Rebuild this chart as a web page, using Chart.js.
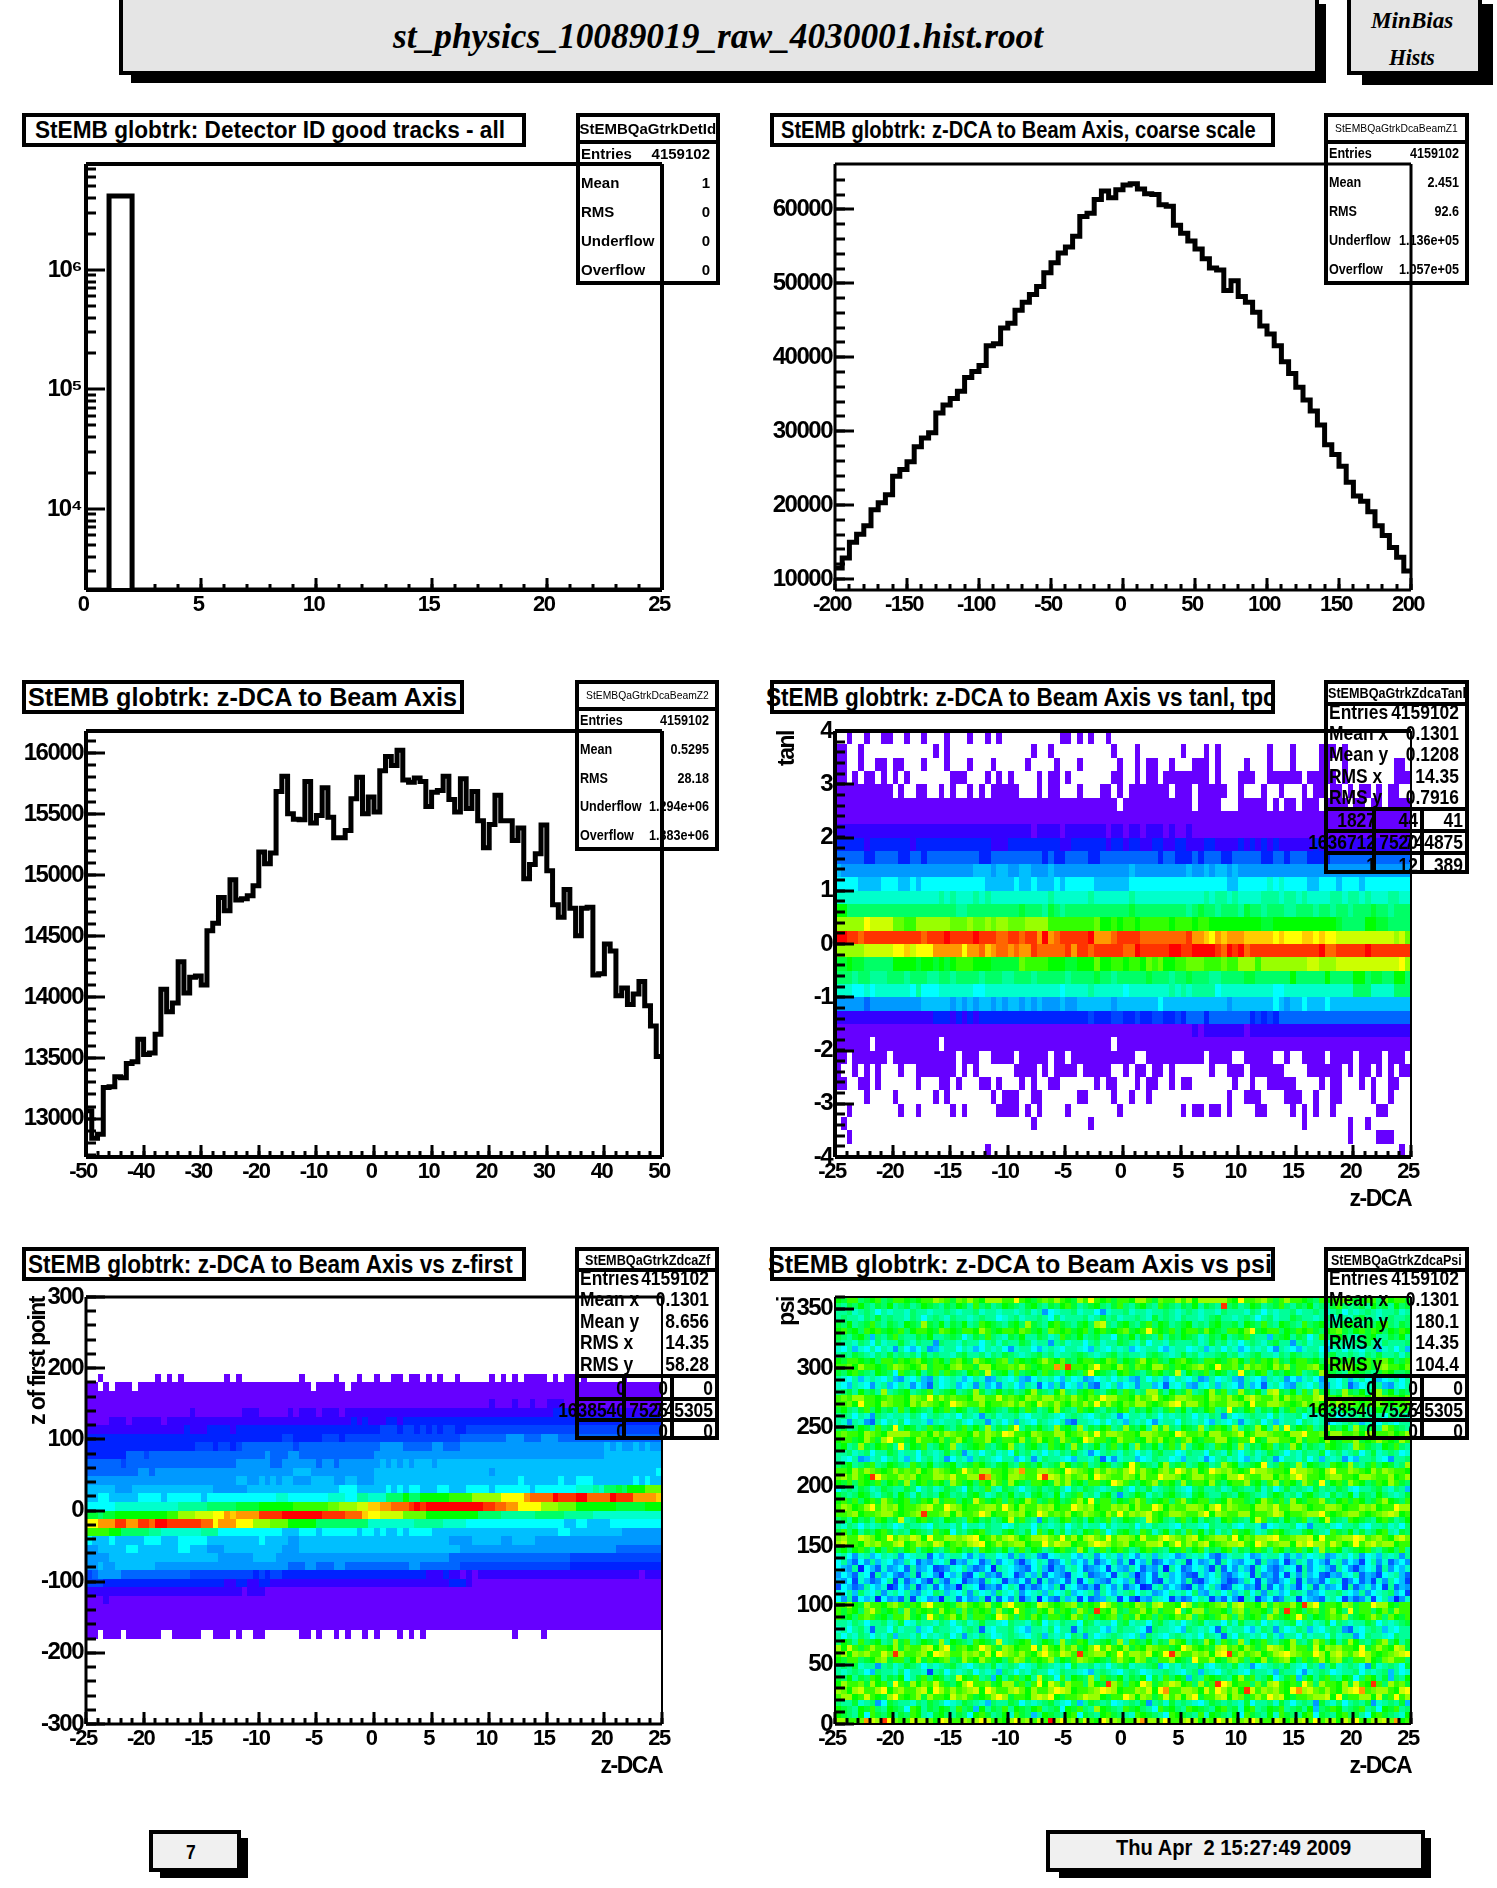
<!DOCTYPE html>
<html>
<head>
<meta charset="utf-8">
<title>st_physics_10089019_raw_4030001.hist.root</title>
<script src="https://cdn.jsdelivr.net/npm/chart.js@4"></script>
<style>
body { margin:0; background:#fff; width:1497px; height:1888px; position:relative; overflow:hidden; color:#000; font-family:"Liberation Sans",Arial,sans-serif; font-weight:bold; }
canvas { position:absolute; }
.box { position:absolute; box-sizing:border-box; border:4px solid #000; }
.shadow { position:absolute; background:#000; }
.txt { position:absolute; white-space:pre; }
.line { position:absolute; background:#000; }
</style>
</head>
<body>
<script>
// values
var detIdCounts = [0,4159102,0,0,0,0,0,0,0,0,0,0,0,0,0,0,0,0,0,0,0,0,0,0,0];
var dcaCoarseCounts = [11490,12830,14970,16040,17220,19360,20320,21390,23900,24810,25880,27910,29090,29780,32460,33530,34440,35400,37270,38070,38880,41550,41820,43960,44600,46360,47430,48500,49570,51440,52780,54120,54920,56360,59040,59470,61340,62510,61600,62670,63300,63480,62780,62140,62030,60640,60430,57860,56790,55720,54650,53320,52090,51820,49040,50370,48230,47430,46090,44220,43150,41550,39410,37810,35930,34220,32730,30850,28180,26850,25240,23100,21230,20530,19090,17220,15890,14280,12940,11070];
var dcaFineCounts = [13067,12840,12874,13257,13263,13345,13337,13453,13468,13652,13527,13541,13693,14062,13878,13951,14288,14033,14162,14171,14097,14542,14604,14815,14706,14961,14794,14806,14829,14911,15189,15093,15180,15684,15810,15502,15458,15453,15766,15426,15488,15716,15473,15306,15306,15365,15625,15801,15502,15640,15517,15854,15971,15898,16023,15780,15760,15795,15766,15561,15678,15693,15810,15619,15517,15789,15546,15684,15444,15224,15415,15655,15444,15444,15283,15385,14970,15087,15175,15409,15034,14756,14654,14882,14727,14501,14727,14736,14179,14191,14434,14376,14010,14074,13937,14024,14127,13928,13761,13512];

// 2D histograms: one string per row, top row first. letter = colour level, '.' = empty, number = run length
var tanlRows = [
".2a.2a.2a2.2a.2a.3a.3a.2a.a.10a2.a.a.2a",
"a2.2a.12a.a.14a.2a.10a.3a.7a.3a.a.8a.3a.4a3.a",
"a2.2a.2a2.a2.3a.3a.3a.3a.5a.4a.3a.6a.2a.a2.2a.3a3.a.4a.3a.3a.4a2.2a.8a2",
"a2.a.a2.a.a.a.7a3.3a.a.a.4a.a2.a.7a2.2a.a2.a8.a.3a3.2a6.a5.a.8a3",
"a10.a.2a2.2a.a.2a.a.a5.3a.a2.3a.3a2.a.a7.a3.a5.2a.3a.2a.3a.a2.a2.a.a2.a.a2.2",
"a49.a12.a4.3a5.a.a2.a3.a4.a2.a2.a4",
"a100",
"b34ab4ab7ab2ab2ab3aba2ba38",
"c5bc7bc13b3c9b2c6bc2bc2b2c2b2c2b3c2b4cbcbcbcb6cb16",
"e5c2e4c2e2ce9c2e9cec2e4c2e10ce2c3ece3c2e5c2e2ce3c4e14",
"gf23g3fg2f2g2f3gf13gf9gf2gfg2fgf30",
"h4g4h3g2hgh11g5hg2hg3hgh5g6h17g2h5ihih4g2h3gh3gh8",
"i18jiji3jiji10ji6ji6ji12jij2iji4j3ij2iji4j2ij2iji3j2i2",
"m2k19j2k9lk3jlkjk6k5lk9jklk2jk3jlk2jk3j2k3jk2jk2jk3lk2jk3",
"p5rq4o2n2p6o3po2pop2o3p4n8om2nmn2mn5mn3mn2m8ml2m11lk4m2l2k4",
"w2v2uv10uv3wv4wv3u2v2uv2twtuv5wt3uv4u8vt2srtst3s5rsr3s2rsr2q10pqo",
"p5q5r2sqr3t5rt2ustu2tut2vu5vtv2uv5u2wv5w2v2w4vuwvwuv12wu2v5wv7",
"l2ml2k5m4lm2lmlmn3m3l5on4m3l2m3om2n2mn2monom2n2o3n3on2p3np8q2p3q8q3rp2",
"k3jk2j3k3jk3j2k2jk4jk3j2k3jk5jk4lk2jk5lk3jk2lk3j2k4l2k6mk5mk4m2kl2k2m2k",
"i3h2ihi6hjh3i6h2i13hi4ji5hi7jijij4hi9h2i12k3i4k3",
"f5ef9g5fgfgfg2fgfg2fgfgf3gf2g6fg7hg11fg7hgfg2hg3hg14",
"b17c3bcbcbc19dc3d2c2dc2d2c2dce3ce7cdcdce23",
"a62bab7ab28",
"a6.a11.a29.a51",
"a2.a6.a11.a3.2a4.a5.a2.a11.2a10.a4.2a5.2a.2a4.a4.a4.a3.",
"a.2a.a.a.3a.2a7.a.a.6a4.a.a4.a5.2a.a2.a2.a.6a.2a3.a6.4a6.a.a2.a.a.a2",
"a2.2a2.a.6a.3a2.a.3a2.a.3a.a.2a2.6a.a2.3a.a2.2a.a2.7a.2a.2a5.4a.a2.3a.a.2a2",
".5a.4a.6a.a.7a.a3.2a2.6a2.4a.2a.2a.13a.2a3.4a3.2a.2a2.5a.2a",
".2a.8a.2a.5a.a.5a4.a.a.4a.8a.10a.a2.a2.a.4a2.4a.a.a.2a.7a2",
".a.32a.9a.36a.7a.2a",
".2a.86a.4a3",
".26a.71a"
];

var zfirstRows = [
".100",".100",".100",".100",".100",".100",".100",".100",".100",
".2a.9a.a.a.7a.a.10a.5a.3a.2a.2a2.a2.a.a.2a.5a.a.a.a4.a.a2.a.6a",
"a2.a.a3.a30.a5.a54",
"a100",
"a70ba3ba2ba2b3a17",
"a18ba8b3a5bab3ab3abb35c3b17",
"a4b3ab5ab32cbcb3c2bc45",
"b17cb3c4bc25d3cd2cdcdcd2c2d34",
"c34d2c5d3cd5d15e8f3e3f3e18",
"c19d3cd2cde9de14f4e5f2e3f25gfgf2gfgf2",
"c7e3de20fe3f2e13f40g10",
"e6de19f6e2f6ef2ef4f3gfgfgfg3fg39",
"e9f2ef6f18g3f6f5g20fg28h",
"f18f8g2f2gfgfg2f3g4f2g2f3g25hg6hg2h3g7hghg2",
"g5f3g14f6g16h3g5hghgh2g3h2g3h4gh6gh7i3jik2lkm3o3",
"g2h2g5h4gh6gh12i2h7i3h2j2i3k3mk2m5n4p5r4tu4wv3w2u4wv3t4s",
"h5i11j5k5l4m6n6o2p3q2s2t2u3vwvw10v2u2t2r4p3o3m4m3l5m3",
"l2kl2m9n2p3q3r2tst4v4w7v4u3sr2q4o4m9k4j6k5j5i12",
"r2t3v2t2v2uw2v6u2rt3r3p3o3m5k9i8j5i4h17g2h2g4h9",
"n4m2k5j2i7j3h11g3h3gh6gh2ghg2hgh4g22h2g9f7",
"hg3hg5h3g3h5g9hg4f2g10g16f4g5f2g4f22",
"f2g5h2g7h2g3f3g10f3g2g26f27e10",
"f4g19f6g4f10f20e21d16",
"f2gf2g7f23e3f2e3f2e11f2e7d19c4c12",
"def4e10e2d2d9cdcd2c2c23b3cb2abab28ab4",
"d3c21b2c2b2c2b31c3ba33",
"b27ab3a69",
"a3ba96",
"a100","a100","a100",
"a2.a3.a6.2a5.2a3.a.2a2.6a2.a.2a.a.2a.a.3a.a.a.15a.4a",
".100",".100",".100",".100",".100",".100",".100",".100",".100",".100"
];

// psi map: colours read row by row, single cells are estimates
var psiRows = [
"mlnoklmnkl onmlmnoqpo lpoqnmrrqo otnmlnpoqn mlrotnmoln nmqrnlpnoq ormrrrrrom tnopqnloqo nmlknmonpo lmnokpmnol",
"kjlkmkjlkm jkljkmlkjl kmljnkljkm lkjlmkjlkm nljklmkjln kjlmkjnlkj lkmjlkjvkl jkmljklnkj lkmjkjlnkj kljmkljmkl",
"jikhjkigjh ijhkjihjik jhijkhijhj ihjkhieghi jkhjigehij khjihijkjh ikjhijhkji jhkigjhijk hijkjhikgj hikjhijkhi",
"jkijhkjlik jihkjgikjh kjihjkijgh jkhijkigkh jijkhiljkh ijkjhlikjh kijhjkljih jkigjkhijl kjihjkgijh kljihjkijk",
"lkmjklnkjl kjmlkqlkmj lkmjknmlkj lmkqlkjmnl kjlmkrskjl mkjlnkmljk lmjkjlmkkl jmlknkjmlk jnklmjkjlm kjlkmnkjlk",
"mnlmknmolm lnkmonmlpn mlnomqnlmn ompnlmkpnm olmnkmolmn plmotnmlnk mnolpmlkon mptlmnokml nmolkmnplk mnlomkmlnm",
"lkjlmkfkjl nkjilkmjik lkgjlknkjh lkmjilkhjn lkmjkljigl kmjlkinjlk mlkhjlkmjk lnkijfklmj lkgjnklmkj hklmjilkmj",
"kjihkjgkhj iljhkijeki jhkjigjkhk ijlkhjiejk hjigjkhijl kjhkgijhkj ijkhjlikhj gikjhkljie jkhijgkijh kjlihkjijk",
"hgifhgjgih eigfgiefhi jgihfgjhig ehijgfhihg jihgfihgjh ifghjigfhi jghifhjgih fgihjgeihg fhjigfhjgi hgjifhigjf",
"jkilkjhkjl ikjkhljkij hklijkhkjl kjhikljkhi jklkihjklj kijhklkjhi ljkhjikljk hjklijhkjl kijkhkljik jhkjlijkhk",
"mlnomlmkno lnmopmlnmk opmlrnmlop knmlmornmp lkmonlmpnk mlnqmolkmn pmlkonmlnp mkolnmplkm nolmkpnmlo kmnlopmkln",
"nopmrnomln qpomnrlonm pqnolrqmon pnqolmnoup vonmptnomq nlpomrqnlo mnpqomtnop lqnpomrnql onpqmlnoqp mnolprnomp",
"lkmnlkjmlk gnlkmjlnko lkjmnlsklm jnklmknlkj mlkntmlkjm nlkjlnmkls jmklnkmljk tlkmnjlkml njklrmlkjn mlkjlnmkkl",
"ihgifhjhgi fehgifejgh ihfgihefjh gifegihjgf ighefghigj hfeigjhfgi hgjefighjf eihgfjhieg fhigejhgif hjgifghigj",
"hgfihgehjf gihegfdigh jfgheifgeh jgfihdgfie ghfiedhgif ghejifgdhg ifehgjfihg eifgdhigfe jhgifehgid fghijfehgi",
"jkljmkljrj klmjklnjkl mjklqljkmk ljkmrlkjmq kjlmnkjlmk nljkrqljmk lpjkmqlnjk rlkmjqslkm jnkqlmjkrl kmjlqkmjlk",
"nporqnomnp onmqpotnqo pnomrqnosn pomqpnrqnp oqnmpotqrn omqnpsomnr qponmrpnqo mrspnoqmrn ponqsnomqp nomrqpnomp",
"onpmtnomqp nomrnqpomn trpnoqmnop rnqomspnqo mpnrotnqom pnrqomnpst orqnmpnoqr pmtnoqrpnm oqnpmrnqop nmoqpnmonp",
"lmkjlnkmkl jnkmlkjmln kmljknmlkj lmknljkmrl kjnlmkjlkm njlkmkjlnk mjlkmnjktl kmnjlkmjln kljmnkljmk lnjkmlkjnl",
"jkigjhekjh ijhkigjkih jgkihejkhj ikhgjikjhg ikjhgikjhe gijhkjgihj kigjhkjeig hjkijgkhij kgjhikjghi jkihjgkijh",
"jheihedjgi hkgijhfihj ikhgijehig jfihgkjhgi edijhgjgih fjhigehjig kjhigfjhgi ehjkgifhji gkjhieghjk ifhjgihgij",
"kljkmljnkl tkmljknlmk jlnkmkqjlk ntjlkmkjql mkrjlkmnjk qlkmjqlrkj mlkrjlnmkq jlkqmjrktk mlnjkqlkmj rlkmjqnlkj",
"opnomrpnmq rrqnopmrnq ponmroqpnt snomqpnorq mnpqotnrqp onmrqponmt qnopmrqnop smnqrponmq rtnopmqrno pmrqonpmnq",
"mnolmqnlrt nolmqnompl nrmlonqmln omqlnrmolq nlmtqonlmr nolmqnrmol nqmlonrqml ontmlqronm qlnomrmlon qlmnromlqn",
"lmjkqlkmnl jtkmlnjkml qjklmnkjlm qkjlmkjnlm kqljkmjlnk mjqlkmjlnk qjlmkjnlmk rjlkmnjlkq mjlkjnmlkj qnlkjmlnkj",
"jikhjkgijl khjigkjhil jkehigjkhi gljkhigjhk iljhegikjh kigjhklijg hkjigkjhlj gikhjlkigj hkjilgjkhi kgjlhikjgh",
"jhgiefhjgi khfjgikhje gihfjkihgj ifgjehkjih gfijhkdgeh ijfghkjigh fjihegjkhi gfjhkiegij hkgifjhieg fijkhgeijk",
"klmjklnjkm lkjnlkmjkl mjklnmkjlm kjnlkmjklr mklnjkmljk mtnlkjmrkl njkmljkrnm jklmtjknlk rjmlkjnmlq kjlnkmljkq",
"nomqnrpomn qopnrmoqpn motpnqrnom pqunorrpnm trpomqnrpo qtnrompqnt roqmntrpqo mntqrpnomt qrpnmqtonr pomqnrpnom",
"prnqomvtpn oqprmnoqrp sonqrvupnm qrpontvsro qnprmtqpon rpmqnotrqp mnqropnmqr tpnoqrmpnq tronmpqrno mqrpnoqmnr",
"mlnkomlnkm olrkmnlomk qnlmkomrnl qmlkonmlqn rlmkonlmtq nlkmorlnmk qlonmrlkmo nqlmkorlnm kqoltkmnlq omklnmrolk",
"gjkilkhjlk ijlkgjkhil kjgliknjhl kigjkliklj gkilkjhjkl igkjlhjkli hgkljikhjl kjilhkgjli kjhlikjlkh gjikljhkif",
"lkjkmljhkl jmkhljkjml ikjlmkhjlk mjkhlmkjmh klnjkhlmje jkmlhkjlmk jhlmkjilkj mlkjhkmljk hlmkjhljkm hlkjmkihjl",
"mnlokmnlrn lmoklnmqln okmlsnlmok nlmqoklnmk lnqmtlonkm loqnklmnko rlmonklmqo nlkmqolnkr mlonqlkmnl omklnqmlko",
"nqpmoqtnrp qmonprsnot qpmonpqrnt pmqonrpqmo ntrpqmonrp qmrnotqmpn orqpmrtnqp onmqrpsnoq rpmonqrpmo nqprmontqr",
"nopqmonprq omnprvonpq mrnoptqmon rpqmotrnpo qmnrpomqnt orpqsnmoqr ponqtmrpno qrmnopsqmn oprqtnmopq rnmopqsrmn",
"kljmkljnmk lsjkmnlkjm lkjnmkljkm slnkjeljkm nkljmklnjk mlkjsnmkjl nkmjlkjmnl kjmsnkljmk lnjkmslkjn mlkjmnljkm",
"jhkigjhikj ghkijhgkij hkgjihkjig hkjigkjhik gjkhijgkhj ikgjhkijhg kijhgkijkh gjiheghijk gheijkhgji khgjikhjgk",
"lnkmjlkmnl ikjmlkjnlm gkjlmnkjil mkjlgnkmjl hkjmlnkgjl mkjnlhkmjl inkmjlhkjn lmkhjlnmkj ilmkjhnlkm jlikmnjhlk",
"prnosqpmnt orpsqmtnoq rpqstmnroq spmnqrspot nqmrspotnq rpmsonqtrp nqsmoprqnt mpoqrstonp qrsmtnopqr tsnpqomrsp",
"qsnomrpqno qsmnrposqm npoqstmnro pqrmnotpsq rmnoqtsrnp qmonrqsmpt ornqsmnpqr somtqnpqrm sqtrqnspmo tnrspqrmno",
"lmkmnljmkn lkmnjlmkjl nmkljnmlkm jlnkmljkmn lkqmjlnkmo ljkmnlkjml nkmojlkmnj lkmnljomkl nkmjqlnmjk lmnkjlmkoj",
"higehifgjh ieghjidgfh jigehfjigh ejfihedghi jgfhiegjhf igehjfihge fjhigedfhj igefhjigeh fjghiefhjg ieghfjhiei",
"gifdgeifhg efigdfehgi cfehgdfieg hecfgihdeg ifgehdfgie hcgfidegfh icgefhdigf eghdifegcf ihegfdhieg fcgiehdfge",
"gfeibgfdhe fgdiefgcde hgifdegbih gfedgifcfe higdefgchf eigdfehbig deghfcidge hfcigedfhg cieghfdige cfghdiegfh",
"egfdhgcifg edfichgebg fhdcgiefdh gcehfidgfe chgidefgch ifbegdhifg edchfgiedf ghciefdgch eifgdcfehg idfecghifd",
"fegchfdegi chdfgecifd hgcefdighc fegdichefg dhcgifedhg ficegdchfg eidcfghecd figchedfgi chefdgihce gdfcheigfc",
"cgfdeigfhb dgeicfhdge fbihgcefdg ihcfdegfic hgedfcigeh dfgbchiegf dchegifcdh gefcidgehf cgidhefgci dfhegcidfe",
"hgifkhgjeh igjfehgkif hgjeighfkh gieghjfigh kfghjeigfh jkgihefgjh igkfehjgif hkgiejhfgk ihefgjikhg fjeghikfgc",
"geidgfhbge fdichgefbi hdgefichdg eicfhbgedi fhcgdefihc gdbfeihgcf degihcfdge bihcfgdeih cgfedhigcf dehcgifbeh",
"noqmlrnomp qnlomqtonm lpqomnrlmq tnomlsqnmo pqlnmotqnl omrplqsnom tqlomnpqlr sonmqlponr mvqtlonmqp lnotrqmlno",
"olnmkpsolm nkqlnmolrm nkplomnkrl mtnlkomqln mkrolvnmql konqmplnot kmrqlnomkp rlonmkqlvn mkoplnrmkt lonkmplrno",
"nlmkopnlmk onrlmktnlo rmpkonlmtr nkolpmknol mrnkolmnpk olrmnkolmp nrkomlnrok plmnkrolmn tokmlnpork lmnrokpmln",
"ijhkjgijkh jlghkijhkj gikhjlijhg kjihklgjhk ijglkhjigk lhjigkljhi gjklhijgkh ljikgjhikl gjkhilgkjh ijlkgihjkl",
"hjgikhdijg khijfhgkji hgjkidhgij khgfjihkgj idhkjigfhk jihgdkjihg fkjhigdkhj igfhkjeigh kjfhgikjed hgjkifhgji",
"jgihkjgihk fjihkgjhik gjeihkjghi kjhgikfjhi gkjeighjki hgjfkihgjk ihjgkihdjg kihjgkhfij gkhijgkhji egkjihgkji",
"kmljnklmjk rlnjkmlkrj mlkjnmlksj klmnjkmljq klnmjklmkq jnlkmjlkrn mjlkrmjnlk qjmlnkjlmq kjlrnkmjlq mkjlnqkmjl",
"qmsolnrnom qlpnorsmqt lnpmotqnlr pmontlsomq nrlmptosnm qlomrpnolm tqnmolrsnp mqolnsrpmq onlsmqpron mtlnqomsrl",
"ormqprnosp vqnoprmtsq onrpqosmtr pnqomrtpns qovnprqmot nqrpsmotvq onrpqmstvn ropqmnrstq pontrmqspn rtqomnprst",
"mlnoklmprl nokmqlnmop klrnmqolmk nqplomnrkm loqpnmlkor nmqplkonrm lktnoqmlpr nkomqlnprm kolnqmprlk onqmlprnok",
"ikjlhjieik hjlkigjhik ljhgikjlhi kjghilkjhi gljikhjgik lhjiklfgjh kijlhgikjl hieghjkilj hgkifjlhik jgelhikjgl",
"jhikjgfkij hkgjihcjkg ihjkgihjfk igjhkijghk ijhgfikjhg jkighjikjh gikfjhgikj hgkijhfkij gehikjghij kgihjkfigh",
"lkmjlknmjl kmgjlnkmlj ksmlnjkfmj lnkmjslkgn jmlkqjnlkm jlkmgljnkm lfkjnmlkjm qlnjkmgjln fkmjlnkjml gknmjlfkjm",
"mqnoplrmnk tolqmpnsol kmqtnoplmr qlnkotmspl rnokqmlvrn komtqlnpsr mokqlnvtqm nokplrsnmo ltpkqnomrl snmvokqnpl",
"qpmrsonqtm prnoqsmtrn qoprsmtqno rspmqonrts qmnoprtsqm onrpsmtuno qrpmsntqor mvsnrpqomt urspnqomrs tunpqromst",
"nqrmosnmlq tomnrlqonm spqnlmortq lnomrsqtml nopsrqmlno tqmrplnsoq mrtlnoqsmr plnqotrsml nopqrsmtln oqrmslntoq",
"kjilhjkegl kjihkjlkjg hilkjhfkij lkgjhikljh gkfilkjkgh jkilejkhli kjhgjlkikj hlgijkhljg jkieljhkgi kjlehjkilf",
"mlkjmlnkjm lkgnmjlkml jnklfmjlkn jmlkmnjklg mlnkjqmlkj nlmkjgnlmk jnmlkjmnkl hmnjkmlnjk ljmfklnmjk lnjkgmlnjk",
"mlkjmgnlkm jlknmjhlmk jlkgmnljkm hnlkfjmlkj mnglkjmnlk jhnmlkjgnm lkjnhmlkjm gnlkjmhnlk jmnglkjmnk ljgmnlkjhm",
"rqnopusqvt pnosrqpmts onrpqtsonm rtpqnsowrt pqnsomtrqp nosurqptno rsqmpntrso pqtrnosqmp rsntoqrmsp tnoqrspumn"
];
// the psi letters above were typed a step too far from green, this puts them back
var psiRecode = {b:"c",c:"d",d:"e",e:"f",f:"g",g:"h",h:"i",i:"j",o:"n",p:"o",q:"p",r:"p",s:"q",t:"r",u:"t"};

// tick labels
var detIdXTicks = [0,5,10,15,20,25];
var detIdYTicks = [10000,100000,1000000];
var coarseXTicks = [-200,-150,-100,-50,0,50,100,150,200];
var coarseYTicks = [10000,20000,30000,40000,50000,60000];
var fineXTicks = [-50,-40,-30,-20,-10,0,10,20,30,40,50];
var fineYTicks = [13000,13500,14000,14500,15000,15500,16000];
var zdcaXTicks = [-25,-20,-15,-10,-5,0,5,10,15,20,25];
var tanlYTicks = [-4,-3,-2,-1,0,1,2,3,4];
var zfirstYTicks = [-300,-200,-100,0,100,200,300];
var psiYTicks = [0,50,100,150,200,250,300,350];

var levels = "abcdefghijklmnopqrstuvw";
var levelColors = ["#6600ff","#3300ff","#0022ff","#0044ff","#0066ff","#0099ff","#00bfff","#00ffff","#00ffcc","#00ff99","#00ff66","#00ff33","#00ff00","#33ff00","#66ff00","#99ff00","#ccff00","#ffff00","#ffcc00","#ff9900","#ff6600","#ff3300","#ff0000"];

var statsDetId = [["Entries","4159102"],["Mean","1"],["RMS","0"],["Underflow","0"],["Overflow","0"]];
var statsCoarse = [["Entries","4159102"],["Mean","2.451"],["RMS","92.6"],["Underflow","1.136e+05"],["Overflow","1.057e+05"]];
var statsFine = [["Entries","4159102"],["Mean","0.5295"],["RMS","28.18"],["Underflow","1.294e+06"],["Overflow","1.383e+06"]];
var statsTanl = [["Entries","4159102"],["Mean x","0.1301"],["Mean y","0.1208"],["RMS x","14.35"],["RMS y","0.7916"]];
var statsZfirst = [["Entries","4159102"],["Mean x","0.1301"],["Mean y","8.656"],["RMS x","14.35"],["RMS y","58.28"]];
var statsPsi = [["Entries","4159102"],["Mean x","0.1301"],["Mean y","180.1"],["RMS x","14.35"],["RMS y","104.4"]];
var cellsTanl = [["1827","44","41"],["1636712","7520","744875"],["1","12","389"]];
var cellsZfirst = [["0","0","0"],["1638540","7525","745305"],["0","0","0"]];

function decodeRow(row, recode) {
	var out = [];
	row.replace(/\s/g,"").replace(/([.a-w])(\d*)/g, function(m, c, n) {
		var k = n ? parseInt(n) : 1;
		var code = recode && recode[c] ? recode[c] : c;
		for (var i = 0; i < k; i++) out.push(code);
	});
	return out.slice(0,100);
}

function heatPoints(rows, xMin, xMax, yMin, yMax, recode) {
	var dx = (xMax-xMin)/100, dy = (yMax-yMin)/rows.length, pts = [];
	rows.forEach(function(row, r) {
		decodeRow(row, recode).forEach(function(c, i) {
			if (c != ".") pts.push({x:xMin+(i+0.5)*dx, y:yMax-(r+0.5)*dy, level:levels.indexOf(c)});
		});
	});
	return pts;
}

function histPoints(counts, xMin, xMax, floor) {
	var dx = (xMax-xMin)/counts.length;
	var pts = counts.map(function(c,i){ return {x:xMin+i*dx, y:Math.max(c,floor)}; });
	pts.push({x:xMax, y:pts[pts.length-1].y});
	return pts;
}

// pixel edges of neighbouring cells must land on the same integer
function snap(v) {
	return Math.round(Math.round(v*1000)/1000);
}

// draws the 2D cells through the chart scales
var heatPlugin = {
	id:"heat",
	beforeDatasetsDraw:function(chart) {
		var ds = chart.data.datasets[0];
		if (!ds.cellW) return;
		var c = chart.ctx, sx = chart.scales.x, sy = chart.scales.y;
		ds.data.forEach(function(p) {
			var x0 = snap(sx.getPixelForValue(p.x-ds.cellW/2)), x1 = snap(sx.getPixelForValue(p.x+ds.cellW/2));
			var y0 = snap(sy.getPixelForValue(p.y+ds.cellH/2)), y1 = snap(sy.getPixelForValue(p.y-ds.cellH/2));
			c.fillStyle = levelColors[p.level];
			c.fillRect(x0,y0,x1-x0,y1-y0);
		});
	}
};

// ROOT style frame with ticks pointing inward
var framePlugin = {
	id:"frame",
	beforeDraw:function(chart) {
		// tick labels in the picture are squeezed, no narrow font here
		chart.ctx.letterSpacing = "-1.5px";
	},
	afterDatasetsDraw:function(chart, args, o) {
		var c = chart.ctx, a = chart.chartArea, sx = chart.scales.x, sy = chart.scales.y;
		c.save();
		c.strokeStyle = "#000";
		c.lineWidth = o.tickW;
		function xTick(v,len){ var p = Math.round(sx.getPixelForValue(v)); c.beginPath(); c.moveTo(p,a.bottom); c.lineTo(p,a.bottom-len); c.stroke(); }
		function yTick(v,len){ var p = Math.round(sy.getPixelForValue(v)); c.beginPath(); c.moveTo(a.left,p); c.lineTo(a.left+len,p); c.stroke(); }
		o.xMinor.forEach(function(v){ xTick(v,6); });
		sx.ticks.forEach(function(t){ xTick(t.value,12); });
		o.yMinor.forEach(function(v){ yTick(v,10); });
		sy.ticks.forEach(function(t){ yTick(t.value,19); });
		c.lineWidth = o.frameW;
		c.beginPath(); c.moveTo(a.left,a.top); c.lineTo(a.right,a.top); c.moveTo(a.left,a.bottom); c.lineTo(a.right,a.bottom); c.moveTo(a.left,a.top); c.lineTo(a.left,a.bottom); c.stroke();
		c.lineWidth = o.rightW;
		c.beginPath(); c.moveTo(a.right,a.top); c.lineTo(a.right,a.bottom); c.stroke();
		c.restore();
	}
};

function steps(min, max, step) {
	var out = [];
	for (var v = min; v <= max+step/1000; v += step) out.push(v);
	return out;
}

var sansFont = '"Liberation Sans",Arial,sans-serif';
var padLeft = 80, padTop = 14, padRight = 30, padBottom = 62;

function makeChart(p) {
	var cv = document.createElement("canvas");
	cv.width = p.r-p.l+padLeft+padRight;
	cv.height = p.b-p.t+padTop+padBottom;
	cv.style.left = (p.l-padLeft)+"px";
	cv.style.top = (p.t-padTop)+"px";
	document.body.appendChild(cv);
	new Chart(cv.getContext("2d"), {
		type:p.type,
		data:{datasets:[p.dataset]},
		plugins:[heatPlugin,framePlugin],
		options:{
			responsive:false,
			animation:false,
			layout:{padding:{left:0,top:padTop,right:padRight,bottom:0}},
			plugins:{
				legend:{display:false},
				tooltip:{enabled:false},
				frame:{frameW:p.frameW,rightW:p.rightW,tickW:3,xMinor:p.xMinor,yMinor:p.yMinor}
			},
			scales:{
				x:{
					type:"linear", min:p.xMin, max:p.xMax,
					grid:{display:false,drawTicks:false}, border:{display:false},
					afterBuildTicks:function(s){ s.ticks = p.xTicks.map(function(v){ return {value:v}; }); },
					afterFit:function(s){ s.height = padBottom; s.paddingLeft = 0; s.paddingRight = 0; },
					ticks:{autoSkip:false,maxRotation:0,color:"#000",padding:2,labelOffset:-3,font:{family:sansFont,weight:"bold",size:22},callback:function(v){ return String(v); }},
					title:{display:!!p.xTitle,text:p.xTitle,align:"end",color:"#000",padding:{top:0,bottom:6},font:{family:sansFont,weight:"bold",size:23}}
				},
				y:{
					type:p.yType||"linear", min:p.yMin, max:p.yMax,
					grid:{display:false,drawTicks:false}, border:{display:false},
					afterBuildTicks:function(s){ s.ticks = p.yTicks.map(function(v){ return {value:v}; }); },
					afterFit:function(s){ s.width = padLeft; s.paddingTop = 0; s.paddingBottom = 0; },
					ticks:{autoSkip:false,color:"#000",padding:p.yPad||3,font:{family:sansFont,weight:"bold",size:24},callback:p.yLabel||function(v){ return String(v); }},
					title:{display:!!p.yTitle,text:p.yTitle,align:"end",color:"#000",padding:{top:19,bottom:0},font:{family:sansFont,weight:"bold",size:23}}
				}
			}
		}
	});
}

function histDataset(counts, xMin, xMax, floor, w) {
	return {data:histPoints(counts,xMin,xMax,floor),stepped:"before",borderColor:"#000",borderWidth:w,borderJoinStyle:"miter",pointRadius:0,fill:false,tension:0};
}

function heatDataset(rows, xMin, xMax, yMin, yMax, recode) {
	return {data:heatPoints(rows,xMin,xMax,yMin,yMax,recode),cellW:(xMax-xMin)/100,cellH:(yMax-yMin)/rows.length,pointRadius:0,showLine:false};
}

var superDigits = {4:"\u2074",5:"\u2075",6:"\u2076"};

var leftCol = {l:86,r:662}, rightCol = {l:835,r:1411};
var logMinor = [];
[1000,10000,100000,1000000].forEach(function(d){ [2,3,4,5,6,7,8,9].forEach(function(m){ if (m*d>2099 && m*d<7700000) logMinor.push(m*d); }); });

makeChart({type:"line",l:leftCol.l,r:leftCol.r,t:164,b:590,frameW:4,rightW:4,dataset:histDataset(detIdCounts,0,25,2099,5),
	xMin:0,xMax:25,yMin:2099,yMax:7700000,yType:"logarithmic",xTicks:detIdXTicks,yTicks:detIdYTicks,xMinor:steps(0,25,1),yMinor:logMinor,yPad:5,
	yLabel:function(v){ return "10"+superDigits[Math.round(Math.log10(v))]; }});
makeChart({type:"line",l:rightCol.l,r:rightCol.r,t:164,b:590,frameW:3,rightW:3,dataset:histDataset(dcaCoarseCounts,-200,200,0,5),
	xMin:-200,xMax:200,yMin:8514,yMax:66150,xTicks:coarseXTicks,yTicks:coarseYTicks,xMinor:steps(-200,200,10),yMinor:steps(10000,64000,2000)});
makeChart({type:"line",l:leftCol.l,r:leftCol.r,t:731,b:1157,frameW:4,rightW:4,dataset:histDataset(dcaFineCounts,-50,50,0,5),
	xMin:-50,xMax:50,yMin:12687,yMax:16181,xTicks:fineXTicks,yTicks:fineYTicks,xMinor:steps(-50,50,2),yMinor:steps(12700,16100,100)});
makeChart({type:"scatter",l:rightCol.l,r:rightCol.r,t:731,b:1157,frameW:4,rightW:2,dataset:heatDataset(tanlRows,-25,25,-4,4),
	xMin:-25,xMax:25,yMin:-4,yMax:4,xTicks:zdcaXTicks,yTicks:tanlYTicks,xMinor:steps(-25,25,1),yMinor:steps(-4,4,0.2),xTitle:"z-DCA",yTitle:"tanl"});
makeChart({type:"scatter",l:leftCol.l,r:leftCol.r,t:1297,b:1724,frameW:3,rightW:2,dataset:heatDataset(zfirstRows,-25,25,-300,300),
	xMin:-25,xMax:25,yMin:-300,yMax:300,xTicks:zdcaXTicks,yTicks:zfirstYTicks,xMinor:steps(-25,25,1),yMinor:steps(-300,300,20),xTitle:"z-DCA",yTitle:"z of first point"});
makeChart({type:"scatter",l:rightCol.l,r:rightCol.r,t:1297,b:1724,frameW:2,rightW:2,dataset:heatDataset(psiRows,-25,25,0,360,psiRecode),
	xMin:-25,xMax:25,yMin:0,yMax:360,xTicks:zdcaXTicks,yTicks:psiYTicks,xMinor:steps(-25,25,1),yMinor:steps(0,360,10),xTitle:"z-DCA",yTitle:"psi"});

// ---- boxes and text on top of the charts
function add(cls, l, t, w, h, css, text) {
	var d = document.createElement("div");
	d.className = cls;
	d.style.left = l+"px"; d.style.top = t+"px";
	if (w !== null) d.style.width = w+"px";
	if (h !== null) d.style.height = h+"px";
	if (css) d.style.cssText += ";"+css;
	if (text !== undefined) d.textContent = text;
	document.body.appendChild(d);
	return d;
}

// text squeezed to the width it has in the picture, l is the left edge, cy the middle
function fitText(l, cy, width, font, text) {
	var d = add("txt",l,cy,null,null,"font:"+font+";transform-origin:left center",text);
	d.style.transform = "translateY(-50%) scaleX("+(width/d.offsetWidth)+")";
	return d;
}

function shadowBox(l,t,r,b,sr,sb,sl,fill) {
	add("shadow",sl,t+8,sr-sl,sb-t-8);
	add("box",l,t,r-l,b-t,"background:"+fill);
}

function titleBox(l,t,r,b,size,textL,textR,text) {
	add("box",l,t,r-l,b-t,"background:#fff");
	fitText(textL,(t+b)/2,textR-textL,"bold "+size+"px "+sansFont,text);
}

function statsBox(s) {
	add("box",s.l,s.t,s.r-s.l,s.b-s.t,"");
	add("line",s.l,s.head,s.r-s.l,4);
	fitText((s.l+s.r)/2-s.nameW/2,(s.t+s.head)/2+1,s.nameW,s.headFont,s.name);
	var rowH = (s.rowsEnd-s.head)/s.rows.length;
	s.rows.forEach(function(row,i) {
		var y = s.head-1+i*rowH;
		var css = "font:"+s.rowFont+";line-height:"+rowH+"px;transform:scaleX("+s.squeeze+");";
		add("txt",s.l+5,y,null,rowH,css+"transform-origin:left center",row[0]);
		add("txt",s.l,y,s.r-s.l-10,rowH,css+"text-align:right;transform-origin:"+(s.r-s.l-10)+"px center",row[1]);
	});
	if (!s.cells) return;
	s.gridY.forEach(function(y){ add("line",s.l,y,s.r-s.l,4); });
	s.gridX.forEach(function(x){ add("line",x,s.gridY[0],4,s.b-s.gridY[0]); });
	var rights = [s.gridX[0]+4,s.gridX[1]-2,s.r-6];
	var tops = [s.gridY[0],s.gridY[1],s.gridY[2],s.b];
	s.cells.forEach(function(row,i) {
		row.forEach(function(v,k) {
			add("txt",0,tops[i]+2,rights[k],tops[i+1]-tops[i],"text-align:right;font:"+s.rowFont+";line-height:"+(tops[i+1]-tops[i])+"px;transform:scaleX("+s.squeeze+");transform-origin:"+rights[k]+"px center",v);
		});
	});
}

var serifItalic = "italic bold 36px 'Liberation Serif',serif";
shadowBox(119,-4,1319,75,1326,83,131,"#e5e5e5");
fitText(393,36,650,serifItalic,"st_physics_10089019_raw_4030001.hist.root");
shadowBox(1347,-4,1482,75,1493,85,1362,"#e5e5e5");
fitText(1371,20,82,"italic bold 24px 'Liberation Serif',serif","MinBias");
fitText(1389,57,46,"italic bold 24px 'Liberation Serif',serif","Hists");

titleBox(22,113,526,147,23,35,505,"StEMB globtrk: Detector ID good tracks - all");
titleBox(770,113,1275,147,23,781,1256,"StEMB globtrk: z-DCA to Beam Axis, coarse scale");
titleBox(22,680,464,714,26,28,457,"StEMB globtrk: z-DCA to Beam Axis");
titleBox(770,680,1275,714,25,766,1276,"StEMB globtrk: z-DCA to Beam Axis vs tanl, tpc");
titleBox(22,1247,526,1281,25,28,513,"StEMB globtrk: z-DCA to Beam Axis vs z-first");
titleBox(770,1247,1275,1281,26,768,1272,"StEMB globtrk: z-DCA to Beam Axis vs psi");

var bold15 = "bold 15px "+sansFont;
var bold14 = "bold 14px "+sansFont;
var bold21 = "bold 21px "+sansFont;
var thin11 = "11px "+sansFont;
statsBox({l:576,t:113,r:720,b:285,head:140,rowsEnd:285,name:"StEMBQaGtrkDetId",nameW:137,rows:statsDetId,headFont:bold15,rowFont:bold15,squeeze:1});
statsBox({l:1324,t:113,r:1469,b:285,head:140,rowsEnd:285,name:"StEMBQaGtrkDcaBeamZ1",nameW:123,rows:statsCoarse,headFont:thin11,rowFont:bold14,squeeze:0.9});
statsBox({l:575,t:680,r:719,b:851,head:707,rowsEnd:851,name:"StEMBQaGtrkDcaBeamZ2",nameW:123,rows:statsFine,headFont:thin11,rowFont:bold14,squeeze:0.9});
statsBox({l:1324,t:680,r:1469,b:874,head:702,rowsEnd:808,name:"StEMBQaGtrkZdcaTanl",nameW:138,rows:statsTanl,headFont:bold15,rowFont:bold21,squeeze:0.83,cells:cellsTanl,gridY:[807,829,851],gridX:[1372,1420]});
statsBox({l:575,t:1247,r:719,b:1440,head:1268,rowsEnd:1375,name:"StEMBQaGtrkZdcaZf",nameW:125,rows:statsZfirst,headFont:bold15,rowFont:bold21,squeeze:0.83,cells:cellsZfirst,gridY:[1374,1397,1418],gridX:[622,670]});
statsBox({l:1324,t:1247,r:1469,b:1440,head:1268,rowsEnd:1375,name:"StEMBQaGtrkZdcaPsi",nameW:131,rows:statsPsi,headFont:bold15,rowFont:bold21,squeeze:0.83,cells:cellsZfirst,gridY:[1374,1397,1418],gridX:[1372,1420]});

shadowBox(149,1830,241,1872,248,1878,160,"#f0f0f0");
fitText(186,1852,10,"bold 21px "+sansFont,"7");
shadowBox(1046,1830,1425,1872,1431,1878,1059,"#f0f0f0");
fitText(1116,1848,235,"bold 22px "+sansFont,"Thu Apr  2 15:27:49 2009");
</script>
</body>
</html>
